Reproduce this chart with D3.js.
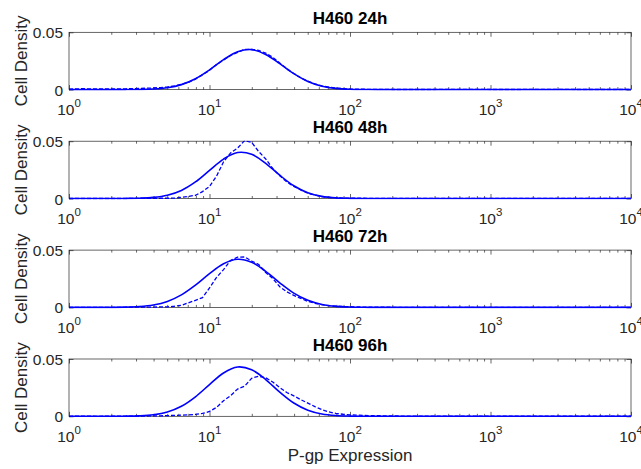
<!DOCTYPE html>
<html>
<head>
<meta charset="utf-8">
<script src="https://cdn.jsdelivr.net/npm/d3@7"></script>
<style>
  body { margin: 0; background: #fff; }
  text { font-family: "Liberation Sans", Arial, Helvetica, sans-serif; }
</style>
</head>
<body>
<script>
// panel titles
var titles = ["H460 24h", "H460 48h", "H460 72h", "H460 96h"];

// fitted curves, x given as log10(P-gp expression)
var fitLogX = [0, 0.4, 0.5, 0.6, 0.7, 0.8, 0.9, 1.0, 1.1, 1.2, 1.3, 1.4, 1.5, 1.6, 1.7, 1.8, 1.9, 2.0, 2.1, 2.2, 3, 4];
var fit24 = [0, 0.00002, 0.00014, 0.00053, 0.00166, 0.00434, 0.00947, 0.0172, 0.0261, 0.0330, 0.0349, 0.0307, 0.0226, 0.0139, 0.0071, 0.0030, 0.0011, 0.0003, 0.00008, 0.00002, 0, 0];
var fit48 = [0, 0.00006, 0.00026, 0.00095, 0.00284, 0.00703, 0.01444, 0.0245, 0.0344, 0.0401, 0.0386, 0.0307, 0.0203, 0.0111, 0.0050, 0.00188, 0.00058, 0.00015, 0.00003, 0, 0, 0];
var fit72 = [0, 0.00022, 0.00075, 0.00214, 0.00524, 0.01095, 0.01947, 0.0295, 0.0381, 0.0420, 0.0394, 0.0315, 0.0214, 0.0124, 0.00615, 0.00259, 0.00093, 0.00029, 0.00007, 0.00002, 0, 0];
var fit96 = [0, 0.0001, 0.0004, 0.00132, 0.00372, 0.00871, 0.0170, 0.0277, 0.0378, 0.0430, 0.0406, 0.0321, 0.0211, 0.0116, 0.00533, 0.00204, 0.00065, 0.00017, 0.00004, 0, 0, 0];

// measured histograms (dashed)
var histLogX = [0, 0.1, 0.2, 0.3, 0.4, 0.5, 0.6, 0.65, 0.7, 0.75, 0.8, 0.85, 0.9, 0.95, 1.0, 1.05, 1.1, 1.15, 1.2, 1.25,
  1.3, 1.35, 1.4, 1.45, 1.5, 1.55, 1.6, 1.65, 1.7, 1.75, 1.8, 1.85, 1.9, 1.95, 2.0, 2.05, 2.1, 2.15, 2.2, 2.3,
  2.4, 2.6, 2.8, 3.0, 3.2, 3.4, 3.6, 3.8, 4.0];
var hist24 = [0.0004, 0.0008, 0.0005, 0.0006, 0.0007, 0.0010, 0.0014, 0.0018, 0.0024, 0.0032, 0.0046, 0.0063, 0.0092, 0.0128, 0.0168, 0.0218, 0.0258, 0.0298, 0.0325, 0.0352,
  0.0350, 0.0342, 0.0318, 0.0282, 0.0232, 0.0182, 0.0140, 0.0102, 0.0074, 0.0050, 0.0033, 0.0021, 0.0013, 0.0008, 0.0005, 0.0004, 0.0003, 0.0002, 0.0002, 0.0001,
  0.0001, 0.0001, 0.0002, 0.0001, 0.0001, 0.0002, 0.0001, 0.0001, 0.0001];
var hist48 = [0, 0, 0, 0, 0, 0.0001, 0.0001, 0.0002, 0.0002, 0.0003, 0.0010, 0.0018, 0.0028, 0.0060, 0.0105, 0.0195, 0.0320, 0.0398, 0.0440, 0.0505,
  0.0490, 0.0410, 0.0345, 0.0262, 0.0198, 0.0145, 0.0105, 0.0075, 0.0045, 0.0030, 0.0016, 0.0010, 0.0006, 0.0004, 0.0003, 0.0002, 0.0002, 0.0001, 0.0001, 0.0001,
  0.0001, 0.0001, 0.0001, 0.0001, 0.0001, 0.0001, 0.0001, 0.0001, 0.0001];
var hist72 = [0, 0, 0, 0, 0.0001, 0.0002, 0.0003, 0.0004, 0.0005, 0.0010, 0.0018, 0.0040, 0.0062, 0.0085, 0.0170, 0.0262, 0.0330, 0.0410, 0.0438, 0.0440,
  0.0405, 0.0375, 0.0305, 0.0252, 0.0180, 0.0136, 0.0105, 0.0078, 0.0052, 0.0036, 0.0024, 0.0015, 0.0011, 0.0008, 0.0006, 0.0004, 0.0003, 0.0003, 0.0002, 0.0001,
  0.0001, 0.0001, 0.0001, 0.0001, 0.0001, 0.0001, 0.0001, 0.0001, 0.0001];
var hist96 = [0, 0.0001, 0, 0.0001, 0.0002, 0.0002, 0.0003, 0.0004, 0.0006, 0.0008, 0.0010, 0.0012, 0.0016, 0.0025, 0.0042, 0.0078, 0.0136, 0.0180, 0.0238, 0.0262,
  0.0332, 0.0350, 0.0336, 0.0300, 0.0251, 0.0208, 0.0178, 0.0145, 0.0115, 0.0085, 0.0058, 0.0038, 0.0025, 0.0018, 0.0013, 0.0010, 0.0008, 0.0006, 0.0005, 0.0003,
  0.0002, 0.0001, 0.0001, 0.0001, 0.0001, 0.0001, 0.0001, 0.0001, 0.0001];

var fits = [fit24, fit48, fit72, fit96];
var hists = [hist24, hist48, hist72, hist96];
var yTicks = [0, 0.05];
var yTickLabels = ["0", "0.05"];

var svgW = 641, svgH = 469;
var left = 69, right = 631;
var top0 = 32.3, step = 108.9, plotH = 57.3;
var ink = "#262626";

var svg = d3.select("body").append("svg")
  .attr("width", svgW)
  .attr("height", svgH);

var xScale = d3.scaleLog().domain([1, 1e4]).range([left, right]);
var yScale = d3.scaleLinear().domain([0, 0.05]).range([plotH, 0]);

var allTicks = xScale.ticks();
var major = allTicks.filter(function (d) { return Math.abs(Math.log10(d) - Math.round(Math.log10(d))) < 1e-9; });
var minor = allTicks.filter(function (d) { return major.indexOf(d) < 0; });

var fitLine = d3.line()
  .x(function (d) { return xScale(Math.pow(10, d[0])); })
  .y(function (d) { return yScale(d[1]); })
  .curve(d3.curveCatmullRom);
var histLine = d3.line()
  .x(function (d) { return xScale(Math.pow(10, d[0])); })
  .y(function (d) { return yScale(d[1]); });

function cleanAxis(g) {
  g.select(".domain").remove();
  g.selectAll("line").attr("stroke", ink).attr("stroke-width", 0.7);
}

titles.forEach(function (t, i) {
  var top = top0 + i * step;
  var g = svg.append("g").attr("transform", "translate(0," + top + ")");

  // clip for the data lines
  g.append("clipPath").attr("id", "clip" + i)
    .append("rect")
    .attr("x", left).attr("y", -0.5)
    .attr("width", right - left).attr("height", plotH + 1.5);

  // ticks
  g.append("g").attr("transform", "translate(0," + plotH + ")")
    .call(d3.axisBottom(xScale).tickValues(major).tickSize(-4.5).tickFormat(""))
    .call(cleanAxis);
  g.append("g").attr("transform", "translate(0," + plotH + ")")
    .call(d3.axisBottom(xScale).tickValues(minor).tickSize(-2.5).tickFormat(""))
    .call(cleanAxis);
  g.append("g")
    .call(d3.axisTop(xScale).tickValues(major).tickSize(-4.5).tickFormat(""))
    .call(cleanAxis);
  g.append("g")
    .call(d3.axisTop(xScale).tickValues(minor).tickSize(-2.5).tickFormat(""))
    .call(cleanAxis);

  var yAx = g.append("g").attr("transform", "translate(" + left + ",0)")
    .call(d3.axisLeft(yScale).tickValues(yTicks).tickSize(-4.5).tickPadding(6)
      .tickFormat(function (d, k) { return yTickLabels[k]; }))
    .call(cleanAxis);
  yAx.selectAll("text")
    .attr("font-family", null)
    .attr("font-size", "15.5px")
    .attr("fill", ink)
    .attr("dy", "0.36em");
  yAx.attr("font-family", null).attr("font-size", null);

  g.append("g").attr("transform", "translate(" + right + ",0)")
    .call(d3.axisRight(yScale).tickValues(yTicks).tickSize(-4.5).tickFormat(""))
    .call(cleanAxis);

  // box
  g.append("rect")
    .attr("x", left).attr("y", 0)
    .attr("width", right - left).attr("height", plotH)
    .attr("fill", "none").attr("stroke", ink).attr("stroke-width", 0.7);

  // x tick labels 10^n
  var lbl = g.selectAll(".xlab").data(major).enter()
    .append("text")
    .attr("class", "xlab")
    .attr("x", function (d) { return xScale(d); })
    .attr("y", plotH + 25.5)
    .attr("text-anchor", "middle")
    .attr("fill", ink)
    .attr("font-size", "15.5px");
  lbl.append("tspan").text("10");
  lbl.append("tspan")
    .attr("dy", -8)
    .attr("font-size", "11.5px")
    .text(function (d) { return Math.round(Math.log10(d)); });

  // data
  var fitData = fitLogX.map(function (x, k) { return [x, fits[i][k]]; });
  var histData = histLogX.map(function (x, k) { return [x, hists[i][k]]; });

  g.append("path")
    .attr("clip-path", "url(#clip" + i + ")")
    .attr("d", histLine(histData))
    .attr("fill", "none")
    .attr("stroke", "#0000ff")
    .attr("stroke-width", 1.3)
    .attr("stroke-dasharray", "4,2");
  g.append("path")
    .attr("clip-path", "url(#clip" + i + ")")
    .attr("d", fitLine(fitData))
    .attr("fill", "none")
    .attr("stroke", "#0000ff")
    .attr("stroke-width", 1.6);

  // title
  g.append("text")
    .attr("x", (left + right) / 2)
    .attr("y", -8.5)
    .attr("text-anchor", "middle")
    .attr("font-weight", "bold")
    .attr("font-size", "17px")
    .attr("fill", "#000")
    .text(t);

  // y label
  g.append("text")
    .attr("transform", "translate(27," + (plotH / 2) + ") rotate(-90)")
    .attr("text-anchor", "middle")
    .attr("font-size", "17px")
    .attr("fill", ink)
    .text("Cell Density");
});

svg.append("text")
  .attr("x", (left + right) / 2)
  .attr("y", 461)
  .attr("text-anchor", "middle")
  .attr("font-size", "17px")
  .attr("fill", ink)
  .text("P-gp Expression");
</script>
</body>
</html>
